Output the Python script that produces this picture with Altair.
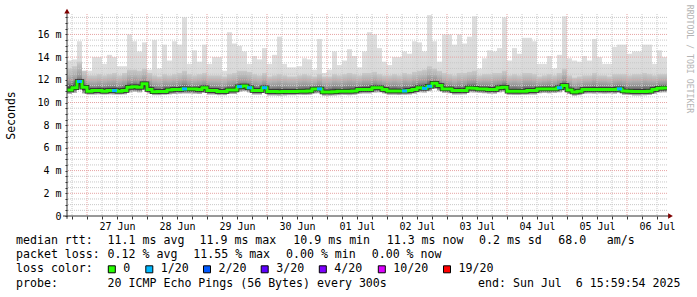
import altair as alt
import pandas as pd

# ---------------- data ----------------
DAY_LABELS = ["27 Jun", "28 Jun", "29 Jun", "30 Jun", "01 Jul",
              "02 Jul", "03 Jul", "04 Jul", "05 Jul", "06 Jul"]
STEP_HOURS = 2          # one value every 2 hours
SPAN_HOURS = 240        # 10 days, 26 Jun 16:00 -> 06 Jul 16:00

# median rtt (ms) per step
MEDIAN = [
    11.10, 11.30, 11.85, 11.35, 11.00, 11.05, 11.05, 11.00, 11.05, 11.05,
    11.00, 11.05, 11.35, 11.40, 11.35, 11.65, 11.15, 10.95, 10.97, 10.97,
    11.10, 11.15, 11.15, 11.20, 11.20, 11.20, 11.15, 11.30, 11.05, 11.05,
    10.97, 10.97, 11.10, 11.10, 11.40, 11.45, 11.30, 11.05, 11.05, 11.30,
    10.96, 10.96, 10.95, 10.96, 10.97, 10.98, 11.00, 11.00, 11.02, 11.20,
    11.20, 10.93, 10.93, 10.95, 11.00, 11.00, 11.00, 11.02, 11.15, 11.15,
    11.15, 11.30, 11.30, 11.15, 11.02, 11.02, 11.02, 11.02, 11.05, 11.14,
    11.30, 11.25, 11.43, 11.70, 11.50, 11.20, 11.20, 11.05, 11.05, 11.05,
    11.28, 11.25, 11.20, 11.20, 11.14, 11.14, 11.30, 11.35, 11.00, 11.00,
    11.00, 11.00, 11.05, 11.05, 11.20, 11.20, 11.20, 11.20, 11.30, 11.50,
    11.10, 10.93, 11.00, 11.14, 11.14, 11.14, 11.14, 11.14, 11.14, 11.14,
    11.20, 11.02, 11.00, 10.96, 10.96, 10.96, 11.00, 11.14, 11.25, 11.28,
]
# highest ping (top of the light smoke), ms
TOP = [
    13.7, 13.8, 15.4, 12.8, 12.8, 14.0, 14.0, 13.4, 14.2, 14.0,
    13.2, 13.2, 16.0, 15.4, 14.5, 15.3, 12.9, 15.5, 13.0, 15.1,
    13.7, 15.4, 15.1, 17.5, 13.4, 14.6, 13.6, 15.1, 13.4, 14.0,
    14.0, 12.8, 16.2, 15.2, 15.0, 14.5, 13.4, 14.1, 13.8, 14.8,
    13.4, 14.2, 15.8, 13.4, 13.1, 13.1, 13.2, 13.9, 13.8, 12.9,
    15.6, 12.6, 12.9, 14.5, 13.3, 13.7, 14.7, 14.1, 13.1, 14.5,
    16.2, 16.0, 14.8, 13.6, 13.3, 14.0, 14.0, 14.5, 14.3, 15.4,
    15.3, 14.5, 17.7, 15.4, 13.6, 16.0, 16.0, 15.1, 16.0, 15.2,
    15.8, 17.6, 13.0, 13.9, 14.6, 14.5, 14.8, 17.5, 13.7, 14.8,
    14.3, 15.7, 15.7, 15.4, 13.4, 13.4, 14.1, 13.0, 14.2, 17.6,
    13.9, 13.7, 13.6, 14.1, 13.7, 15.6, 14.0, 13.4, 13.4, 14.9,
    15.1, 15.1, 14.3, 14.5, 14.5, 15.1, 15.1, 13.4, 14.6, 14.0,
]
# upper edge of the dense smoke, ms
HI = [
    13.0, 13.2, 13.6, 12.8, 12.4, 12.4, 12.5, 12.4, 12.5, 12.6,
    12.4, 12.6, 12.9, 12.9, 12.8, 13.0, 12.6, 12.4, 12.3, 12.5,
    12.4, 12.5, 12.6, 12.8, 12.5, 12.4, 12.5, 12.6, 12.4, 12.4,
    12.4, 12.3, 12.5, 12.6, 12.8, 12.8, 12.7, 12.5, 12.4, 12.6,
    12.3, 12.4, 12.5, 12.4, 12.3, 12.3, 12.4, 12.5, 12.4, 12.3,
    12.5, 12.3, 12.3, 12.5, 12.4, 12.5, 12.6, 12.5, 12.4, 12.6,
    12.6, 12.7, 12.5, 12.4, 12.4, 12.5, 12.4, 12.6, 12.5, 12.7,
    12.8, 12.9, 13.2, 13.0, 12.8, 12.6, 12.5, 12.4, 12.6, 12.6,
    12.7, 12.8, 12.4, 12.5, 12.5, 12.6, 12.6, 12.8, 12.4, 12.5,
    12.4, 12.6, 12.6, 12.5, 12.3, 12.4, 12.5, 12.4, 12.6, 13.0,
    12.4, 12.2, 12.3, 12.4, 12.4, 12.6, 12.4, 12.4, 12.3, 12.5,
    12.5, 12.5, 12.4, 12.5, 12.5, 12.6, 12.5, 12.4, 12.5, 12.5,
]
# lowest ping, ms
LO = [
    10.75, 10.85, 11.20, 10.80, 10.70, 10.70, 10.72, 10.70, 10.72, 10.70,
    10.70, 10.72, 10.90, 10.95, 10.90, 11.10, 10.80, 10.65, 10.65, 10.68,
    10.72, 10.75, 10.78, 10.80, 10.80, 10.78, 10.75, 10.85, 10.70, 10.70,
    10.65, 10.65, 10.75, 10.75, 10.95, 11.00, 10.90, 10.70, 10.70, 10.85,
    10.62, 10.62, 10.60, 10.62, 10.65, 10.65, 10.68, 10.66, 10.68, 10.80,
    10.82, 10.60, 10.60, 10.62, 10.65, 10.66, 10.65, 10.68, 10.78, 10.80,
    10.80, 10.88, 10.90, 10.80, 10.68, 10.68, 10.66, 10.68, 10.70, 10.78,
    10.90, 10.88, 11.00, 11.20, 11.05, 10.85, 10.82, 10.70, 10.70, 10.72,
    10.90, 10.88, 10.85, 10.82, 10.78, 10.78, 10.90, 10.95, 10.68, 10.66,
    10.66, 10.68, 10.70, 10.70, 10.82, 10.85, 10.82, 10.85, 10.90, 11.05,
    10.75, 10.60, 10.65, 10.78, 10.80, 10.78, 10.80, 10.78, 10.80, 10.78,
    10.85, 10.68, 10.66, 10.62, 10.62, 10.64, 10.66, 10.78, 10.88, 10.90,
]
# steps whose median was drawn with 1/20 loss colour
LOSS_1_20_STEPS = [2, 9, 23, 34, 36, 39, 50, 67, 71, 72, 98, 110]

LOSS_LABELS = ["0", "1/20", "2/20", "3/20", "4/20", "10/20", "19/20"]
LOSS_COLORS = ["#26ff00", "#00b8ff", "#0059ff", "#5e00ff", "#7e00ff", "#dd00ff", "#ff0000"]

# legend items: (text, left x in px of the picture)
LEGEND_ROW1 = [("median rtt:", 16), ("11.1 ms avg", 107.6), ("11.9 ms max", 199.5),
               ("10.9 ms min", 293.3), ("11.3 ms now", 386.7), ("0.2 ms sd", 479),
               ("68.0", 558.3), ("am/s", 606.7)]
LEGEND_ROW2 = [("packet loss:", 16), ("0.12 % avg", 107.6), ("11.55 % max", 193.3),
               ("0.00 % min", 286.0), ("0.00 % now", 371.7)]
LEGEND_ROW3 = [("loss color:", 16)]
LEGEND_ROW4 = [("probe:", 16), ("20 ICMP Echo Pings (56 Bytes) every 300s", 107.6)]
LEGEND_END = "end: Sun Jul  6 15:59:54 2025"
WATERMARK = "RRDTOOL / TOBI OETIKER"
Y_TITLE = "Seconds"

# ---------------- layout constants ----------------
PAD_L, PAD_T, PAD_R, PAD_B = 67, 14, 30, 81
W, H = 600, 202
Y_MAX = 17.8
MONO = "DejaVu Sans Mono"
LEG_FS = 11.6
ROW_Y = [241, 255.3, 269.3, 283.6]


def nb(s):
    return s.replace(" ", "\u00a0")


rows = []
for i, (m, t, hi, lo) in enumerate(zip(MEDIAN, TOP, HI, LO)):
    rows.append({"h0": i * STEP_HOURS, "h1": (i + 1) * STEP_HOURS,
                 "med": m, "top": t, "hi": hi, "lo": lo,
                 "loss": "1/20" if i in LOSS_1_20_STEPS else "0"})
df = pd.DataFrame(rows)
line_df = pd.DataFrame({"h": [r["h0"] for r in rows] + [SPAN_HOURS],
                        "med": MEDIAN + [MEDIAN[-1]]})
loss_df = df[df["loss"] != "0"]

XS = alt.Scale(domain=[0, SPAN_HOURS], nice=False, zero=False)
YS = alt.Scale(domain=[0, Y_MAX], nice=False, zero=False)

x_vals = [2 + 6 * k for k in range(40)]
y_vals = [k * 0.5 for k in range(36)]
lab_arr = "[" + ",".join("'" + d + "'" for d in DAY_LABELS) + "]"
x_label_expr = f"(datum.value - 20) % 24 == 0 ? {lab_arr}[(datum.value - 20) / 24] : ''"
y_label_expr = "datum.value % 2 == 0 ? (datum.value == 0 ? '0' : datum.value + ' m') : ''"

XA = alt.Axis(values=x_vals, labelExpr=x_label_expr, grid=False, domain=False,
              tickSize=3, tickColor="#333333", labelFont=MONO, labelFontSize=10,
              labelColor="#000000", labelPadding=2, labelOverlap=False,
              labelFlush=False, labelBound=False, title=None)
YA = alt.Axis(values=y_vals, labelExpr=y_label_expr, grid=False, domain=False,
              tickSize=2, tickColor="#333333", labelFont=MONO, labelFontSize=10,
              labelColor="#000000", labelPadding=4, labelOverlap=False,
              labelFlush=False, labelBound=False,
              title=Y_TITLE, titleFont=MONO, titleFontSize=11.5, titleFontWeight="normal",
              titleColor="#000000", titleAngle=270, titleX=-56, titleY=H / 2,
              titleAlign="center", titleBaseline="middle")


def X(field):
    return alt.X(field, scale=XS, axis=XA)


def Y(field):
    return alt.Y(field, scale=YS, axis=YA)


base = alt.Chart(df)

light = base.mark_rect(
    fill=alt.Gradient(gradient="linear", x1=0, x2=0, y1=0, y2=1,
                      stops=[alt.GradientStop(color="#dedede", offset=0),
                             alt.GradientStop(color="#d8d8d8", offset=0.7),
                             alt.GradientStop(color="#cbcbcb", offset=1)])
).encode(x=X("h0:Q"), x2="h1:Q", y=Y("lo:Q"), y2="top:Q")

smoke = base.mark_rect(
    fill=alt.Gradient(gradient="linear", x1=0, x2=0, y1=0, y2=1,
                      stops=[alt.GradientStop(color="#cacaca", offset=0),
                             alt.GradientStop(color="#b2b2b2", offset=0.3),
                             alt.GradientStop(color="#949494", offset=0.55),
                             alt.GradientStop(color="#666666", offset=0.7),
                             alt.GradientStop(color="#383838", offset=0.8),
                             alt.GradientStop(color="#747474", offset=0.9),
                             alt.GradientStop(color="#bdbdbd", offset=1)])
).encode(x=X("h0:Q"), x2="h1:Q", y=Y("lo:Q"), y2="hi:Q")

# grid
minor_y = [v for v in y_vals if v > 0 and v % 2 != 0]
major_y = [v for v in y_vals if v > 0 and v % 2 == 0]
minor_x = [v for v in x_vals if (v - 8) % 24 != 0]
major_x = [v for v in x_vals if (v - 8) % 24 == 0]


def hgrid(vals, color):
    return alt.Chart(pd.DataFrame({"v": vals})).mark_rule(
        color=color, strokeWidth=1, strokeDash=[1, 1]
    ).encode(y=Y("v:Q"))


def vgrid(vals, color):
    return alt.Chart(pd.DataFrame({"v": vals})).mark_rule(
        color=color, strokeWidth=1, strokeDash=[1, 1]
    ).encode(x=X("v:Q"))


grid = [hgrid(minor_y, "#c8c8c8"), vgrid(minor_x, "#c8c8c8"),
        hgrid(major_y, "#e6a4a4"), vgrid(major_x, "#e6a4a4")]

outline = alt.Chart(line_df).mark_line(
    interpolate="step-after", color="#2a2a2a", strokeWidth=4.5
).encode(x=X("h:Q"), y=Y("med:Q"))

median = alt.Chart(line_df).mark_line(
    interpolate="step-after", color=LOSS_COLORS[0], strokeWidth=3
).encode(x=X("h:Q"), y=Y("med:Q"))

loss_seg = alt.Chart(loss_df).mark_rule(color=LOSS_COLORS[1], strokeWidth=3).encode(
    x=X("h0:Q"), x2="h1:Q", y=Y("med:Q"))

# axes lines and arrows (placed through the scales)
one = pd.DataFrame({"a": [0]})
x_line = alt.Chart(one).mark_rule(color="#333333", strokeWidth=1).encode(
    x=alt.XDatum(-1.6, scale=XS, axis=XA, type="quantitative"),
    x2=alt.X2Datum(241.0),
    y=alt.YDatum(0, scale=YS, axis=YA, type="quantitative"))
y_line = alt.Chart(one).mark_rule(color="#333333", strokeWidth=1).encode(
    x=alt.XDatum(0, scale=XS, axis=XA, type="quantitative"),
    y=alt.YDatum(-0.25, scale=YS, axis=YA, type="quantitative"),
    y2=alt.Y2Datum(17.95))
y_arrow = alt.Chart(one).mark_point(shape="triangle-up", filled=True, color="#7f0000",
                                    size=30, opacity=1).encode(
    x=alt.XDatum(0, scale=XS, axis=XA, type="quantitative"),
    y=alt.YDatum(18.05, scale=YS, axis=YA, type="quantitative"))
x_arrow = alt.Chart(one).mark_point(shape="triangle-right", filled=True, color="#7f0000",
                                    size=30, opacity=1).encode(
    x=alt.XDatum(241.4, scale=XS, axis=XA, type="quantitative"),
    y=alt.YDatum(0, scale=YS, axis=YA, type="quantitative"))


# legend text (positions in pixels relative to the plot origin)
def text_at(s, x, y, align="left", color="#000000", size=LEG_FS, angle=0):
    return alt.Chart(pd.DataFrame({"t": [nb(s)]})).mark_text(
        font=MONO, fontSize=size, align=align, baseline="middle", color=color, angle=angle
    ).encode(text="t:N", x=alt.value(x), y=alt.value(y))


legend = []
for row, ry in zip([LEGEND_ROW1, LEGEND_ROW2, LEGEND_ROW3, LEGEND_ROW4], ROW_Y):
    for s, px in row:
        legend.append(text_at(s, px - PAD_L, ry - PAD_T))
legend.append(text_at(LEGEND_END, 680.5 - PAD_L, ROW_Y[3] - PAD_T, align="right"))

sw_left = [108.3, 145.8, 203.5, 261.2, 319.3, 378.3, 443.5]
for lab, col, sx in zip(LOSS_LABELS, LOSS_COLORS, sw_left):
    legend.append(
        alt.Chart(pd.DataFrame({"c": [col]})).mark_rect(
            fill=col, stroke="#000000", strokeWidth=1
        ).encode(x=alt.value(sx - PAD_L), x2=alt.value(sx + 7 - PAD_L),
                 y=alt.value(265.8 - PAD_T), y2=alt.value(272.8 - PAD_T))
    )
    legend.append(text_at(lab, sx + 15 - PAD_L, ROW_Y[2] - PAD_T))

watermark = text_at(WATERMARK, 688.5 - PAD_L, 59 - PAD_T, align="center",
                    color="#b4b4b4", size=8.2, angle=90)

chart = alt.layer(
    light, smoke, *grid, outline, median, loss_seg,
    x_line, y_line, y_arrow, x_arrow, *legend, watermark
).properties(
    width=W, height=H,
    padding={"left": PAD_L, "top": PAD_T, "right": PAD_R, "bottom": PAD_B},
    autosize=alt.AutoSizeParams(type="none"),
    background="#ffffff",
).configure_view(stroke=None)

chart.save("out.html", embed_options={"renderer": "svg", "actions": False})
